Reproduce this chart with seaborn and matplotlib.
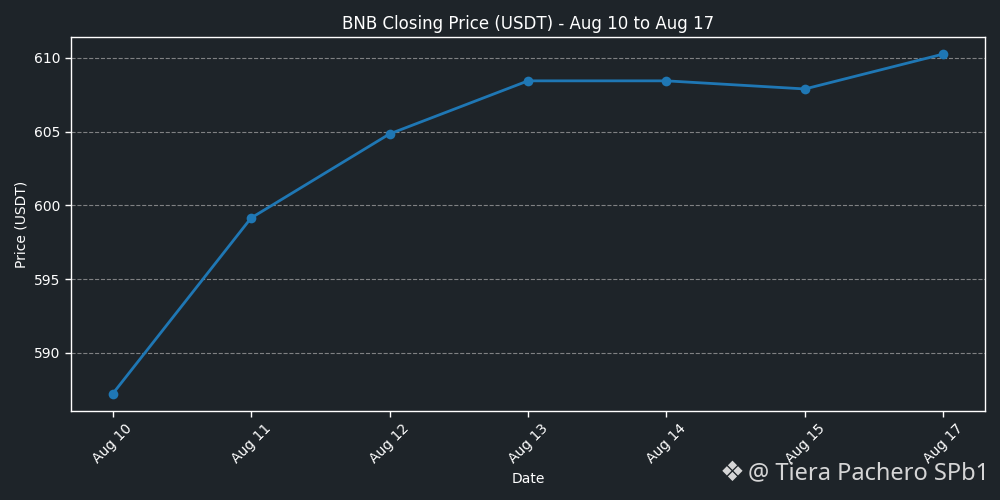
import matplotlib
matplotlib.use("Agg")
import matplotlib.pyplot as plt
import seaborn as sns
import pandas as pd

dates = ["Aug 10", "Aug 11", "Aug 12", "Aug 13", "Aug 14", "Aug 15", "Aug 17"]
prices = [587.22, 599.15, 604.85, 608.45, 608.45, 607.9, 610.27]

bg = "#1e2429"
sns.set_theme(style="dark", rc={
    "figure.facecolor": bg, "axes.facecolor": bg,
    "axes.edgecolor": "white", "text.color": "white",
    "axes.labelcolor": "white", "xtick.color": "white", "ytick.color": "white",
})
plt.rcParams["font.family"] = ["DejaVu Sans"]

df = pd.DataFrame({"Date": dates, "Price": prices})
fig, ax = plt.subplots(figsize=(10, 5), dpi=100)
sns.lineplot(data=df, x="Date", y="Price", marker="o", color="#1f77b4",
             linewidth=2, markersize=7, markeredgewidth=0, ax=ax, sort=False)
ax.set_title("BNB Closing Price (USDT) - Aug 10 to Aug 17", fontsize=12, color="white")
ax.set_xlabel("Date", fontsize=10)
ax.set_ylabel("Price (USDT)", fontsize=10)
ax.tick_params(axis="x", rotation=45, labelsize=10, length=4, width=1, bottom=True)
ax.tick_params(axis="y", labelsize=10, length=4, width=1, left=True)
ax.grid(axis="y", linestyle="--", color="#aaaaaa", alpha=0.7, linewidth=0.8)
ax.grid(axis="x", visible=False)
for s in ax.spines.values():
    s.set_color("white")
    s.set_linewidth(1)
ax.set_yticks([590, 595, 600, 605, 610])
fig.subplots_adjust(left=0.071, right=0.985, top=0.926, bottom=0.178)
fig.text(0.745, 0.054, "❖", fontsize=20, color="#e0e0e0", alpha=0.95,
         ha="right", va="center")
fig.text(0.748, 0.054, "@ Tiera Pachero SPb1", fontsize=17, color="#e0e0e0",
         alpha=0.95, ha="left", va="center", family=["Noto Sans", "DejaVu Sans"])
fig.savefig("out.png", dpi=100, facecolor=bg)
